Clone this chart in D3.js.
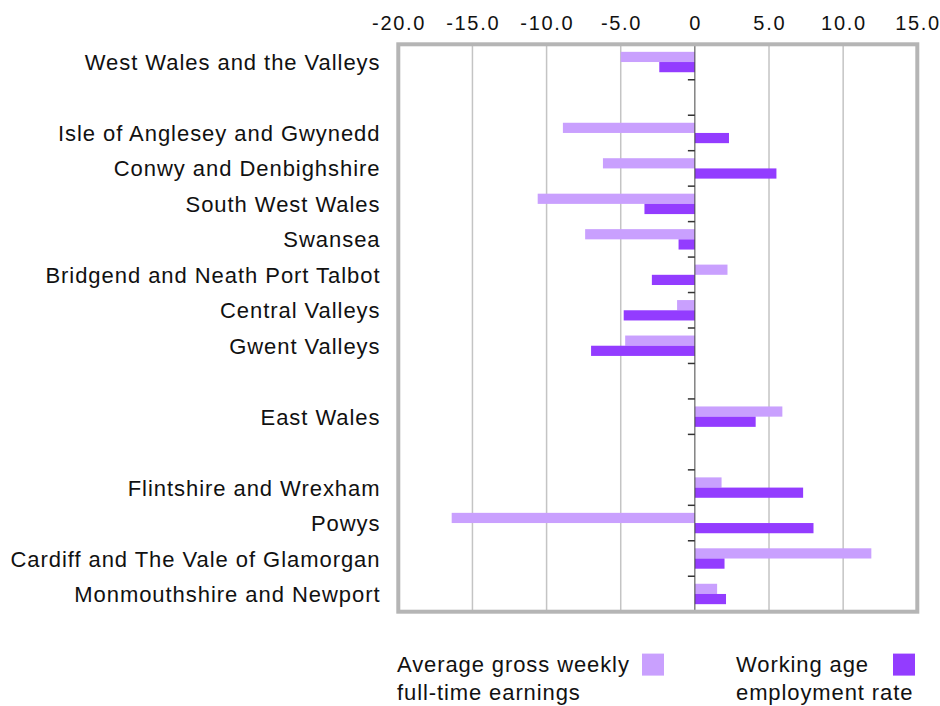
<!DOCTYPE html>
<html>
<head>
<meta charset="utf-8">
<script src="https://cdn.jsdelivr.net/npm/d3@7"></script>
<style>
  html, body { margin: 0; padding: 0; background: #fff; }
  svg { display: block; font-family: "Liberation Sans", Arial, Helvetica, sans-serif; }
</style>
</head>
<body>
<svg id="chart" width="940" height="706"></svg>
<script>
// Rows (null-named rows are spacer rows)
const categories = [
  "West Wales and the Valleys",
  null,
  "Isle of Anglesey and Gwynedd",
  "Conwy and Denbighshire",
  "South West Wales",
  "Swansea",
  "Bridgend and Neath Port Talbot",
  "Central Valleys",
  "Gwent Valleys",
  null,
  "East Wales",
  null,
  "Flintshire and Wrexham",
  "Powys",
  "Cardiff and The Vale of Glamorgan",
  "Monmouthshire and Newport"
];
const earnings   = [-5.0, null, -8.9, -6.2, -10.6, -7.4,  2.2, -1.2, -4.7, null, 5.9, null, 1.8, -16.4, 11.9, 1.5];
const employment = [-2.4, null,  2.3,  5.5,  -3.4, -1.1, -2.9, -4.8, -7.0, null, 4.1, null, 7.3,   8.0,  2.0, 2.1];
const tickValues = [-20, -15, -10, -5, 0, 5, 10, 15];
const tickLabels = ["-20.0", "-15.0", "-10.0", "-5.0", "0", "5.0", "10.0", "15.0"];
const seriesNames = [["Average gross weekly", "full-time earnings"], ["Working age", "employment rate"]];
const seriesColors = ["#c9a0fe", "#933cff"];

(function () {
const svg = d3.select("#chart");
const pLeft = 398.3, pRight = 917.3, pTop = 44.3, pBottom = 611.7;

const x = d3.scaleLinear().domain([-20, 15]).range([pLeft, pRight]);
const y = d3.scaleBand().domain(d3.range(categories.length)).range([pTop, pBottom]).padding(0);
const bw = y.bandwidth();
const barH = 10.2;

// Grid lines
svg.append("g").selectAll("line")
  .data(tickValues.filter(v => v !== 0 && v !== -20 && v !== 15))
  .join("line")
  .attr("x1", d => x(d)).attr("x2", d => x(d))
  .attr("y1", pTop).attr("y2", pBottom)
  .attr("stroke", "#c4c4c4").attr("stroke-width", 1.5);

// Bars
const rowsIdx = d3.range(categories.length).filter(i => categories[i] !== null);
const g = svg.append("g");
g.selectAll("rect.earn")
  .data(rowsIdx)
  .join("rect").attr("class", "earn")
  .attr("x", i => x(Math.min(0, earnings[i])))
  .attr("width", i => Math.abs(x(earnings[i]) - x(0)))
  .attr("y", i => y(i) + bw / 2 - barH)
  .attr("height", barH)
  .attr("fill", seriesColors[0]);
g.selectAll("rect.emp")
  .data(rowsIdx)
  .join("rect").attr("class", "emp")
  .attr("x", i => x(Math.min(0, employment[i])))
  .attr("width", i => Math.abs(x(employment[i]) - x(0)))
  .attr("y", i => y(i) + bw / 2)
  .attr("height", barH)
  .attr("fill", seriesColors[1]);

// Zero axis line with ticks at band boundaries
svg.append("line")
  .attr("x1", x(0)).attr("x2", x(0))
  .attr("y1", pTop).attr("y2", pBottom)
  .attr("stroke", "#444").attr("stroke-width", 1);
svg.append("g").selectAll("line")
  .data(d3.range(1, categories.length))
  .join("line")
  .attr("x1", x(0) - 7).attr("x2", x(0))
  .attr("y1", i => pTop + i * bw).attr("y2", i => pTop + i * bw)
  .attr("stroke", "#333").attr("stroke-width", 1.5);

// Frame
svg.append("rect")
  .attr("x", pLeft).attr("y", pTop)
  .attr("width", pRight - pLeft).attr("height", pBottom - pTop)
  .attr("fill", "none").attr("stroke", "#b5b5b5").attr("stroke-width", 4);

// Top tick labels
svg.append("g").selectAll("text")
  .data(tickValues)
  .join("text")
  .attr("x", d => x(d) + 0.8)
  .attr("y", 30)
  .attr("text-anchor", "middle")
  .attr("font-size", 20)
  .attr("letter-spacing", 1.7)
  .attr("fill", "#111")
  .text((d, i) => tickLabels[i]);

// Category labels
svg.append("g").selectAll("text")
  .data(rowsIdx)
  .join("text")
  .attr("x", 380.5)
  .attr("y", i => y(i) + bw / 2 + 8)
  .attr("text-anchor", "end")
  .attr("font-size", 22)
  .attr("letter-spacing", 0.95)
  .attr("fill", "#111")
  .text(i => categories[i]);

// Legend
const legendPos = [{tx: 397, sx: 642}, {tx: 736, sx: 893}];
seriesNames.forEach((lines, k) => {
  const lg = svg.append("g");
  lg.append("rect")
    .attr("x", legendPos[k].sx).attr("y", 653.6)
    .attr("width", 22).attr("height", 22)
    .attr("fill", seriesColors[k]);
  lines.forEach((t, j) => {
    lg.append("text")
      .attr("x", legendPos[k].tx)
      .attr("y", 672 + j * 28)
      .attr("font-size", 22)
      .attr("letter-spacing", 0.9)
      .attr("fill", "#111")
      .text(t);
  });
});
})();
</script>
</body>
</html>
